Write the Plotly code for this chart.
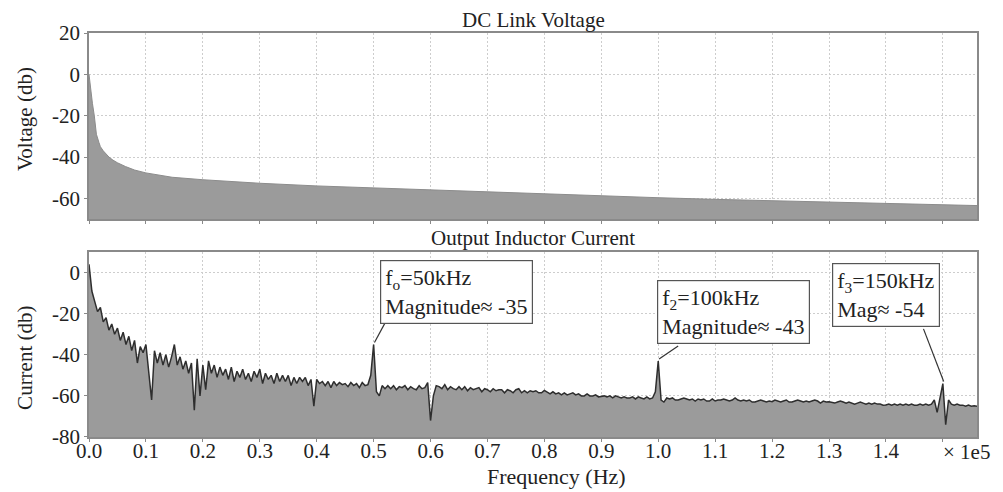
import numpy as np
import plotly.graph_objects as go
from plotly.subplots import make_subplots

# ---- DC link voltage spectrum (smooth) ----
volt_freq = [0, 300, 600, 930, 1160, 1300, 1750, 2000, 2500, 3000, 3500, 4200, 5000,
             6400, 8000, 10000, 14600, 20000, 25000, 30000, 40000, 50000, 60000,
             70000, 80000, 90000, 100000, 110000, 120000, 130000, 140000, 150000, 156000]
volt_db = [0, -8, -14, -20, -27, -29, -33, -35, -37, -38.7, -40, -41.5, -42.8,
           -44.6, -46.3, -47.7, -49.8, -51, -52, -52.7, -54, -55, -56,
           -57, -58, -58.9, -59.7, -60.5, -61.2, -61.9, -62.5, -63.1, -63.5]

# ---- Output inductor current spectrum, 500 Hz bins ----
bin_hz = 500
curr_db = [
    4, -9, -14, -19, -17, -24, -22, -28, -25, -30,
    -27, -33, -29, -35, -31, -38, -33, -44, -36, -39,
    -35, -47, -62, -38, -44, -39, -45, -40, -46, -41,
    -35, -45, -41, -47, -43, -49, -44, -67, -42, -60,
    -45, -57, -43, -49, -45, -51, -46, -50, -47, -52,
    -46, -53, -48, -51, -47, -52, -49, -53, -48, -51,
    -47, -54, -49, -52, -50, -54, -49, -53, -50, -53,
    -50, -55, -51, -54, -51, -53, -51, -55, -52, -65,
    -52, -54, -53, -55, -53, -56, -53, -55, -53.5, -54.5,
    -54, -55.5, -53.5, -55, -54, -56, -53.5, -55, -54.5, -50,
    -35, -58, -60, -55, -56.5, -55, -56.5, -55, -57, -55.5,
    -56, -55, -57, -55.5, -56.5, -57, -55, -56.5, -56, -53.5,
    -72, -60, -55, -55.5, -56.5, -54.5, -57, -55.5, -56.5, -57,
    -55.5, -57, -55.5, -57.5, -56, -57, -56.5, -56, -58, -56.5,
    -57, -58, -56.5, -57.5, -57, -57, -58.5, -57, -57.5, -58.5,
    -57, -56.5, -58.5, -57.5, -58.5, -57.5, -58, -57.5, -58.5, -58.5,
    -57.3, -58, -59, -58, -59, -58.5, -59.5, -58.5, -59.5, -59,
    -58.5, -59.5, -59, -60, -60, -59, -60, -60, -59.5, -60.5,
    -60.3, -60, -60.5, -60, -61, -60, -60.5, -61, -60.5, -61,
    -61, -60.5, -61.5, -60.5, -61, -61.5, -60.5, -61.5, -61, -58,
    -43, -62, -63, -61, -61.5, -61, -62, -62, -61.5, -61,
    -61.5, -62, -61.5, -62.5, -61.5, -62, -61.5, -62.5, -62.5, -61.5,
    -62.5, -62, -62, -61.5, -62, -62.5, -62, -61, -62, -62.5,
    -62, -62.5, -62, -63, -63, -62.5, -62, -62.5, -63, -62.5,
    -62.8, -62, -62.5, -63, -62.5, -62, -63, -63, -62.5, -62,
    -62.5, -63, -62.5, -63, -62.5, -62, -62.5, -63.5, -62.5, -63,
    -62.8, -63, -63.5, -63, -62.5, -63, -63.5, -63, -63.5, -64,
    -63.5, -63, -63.5, -64, -63.5, -64, -63.5, -64, -64, -64.5,
    -64.4, -64, -64.5, -64, -64.5, -64, -64.5, -64, -64.5, -64,
    -64.5, -64.5, -64, -64.5, -64, -64.5, -64, -62, -68, -60,
    -54, -74, -62, -64, -64.5, -64, -64.5, -64.5, -65, -64.5,
    -65, -64.8, -65,
]
curr_freq = [i * bin_hz for i in range(len(curr_db))]

# Harmonic markers: (frequency, magnitude, label)
peak_freq = [50000, 100000, 150000]
peak_db = [-35, -43, -54]
peak_text = ["f<sub>o</sub>=50kHz<br>Magnitude≈ -35",
             "f<sub>2</sub>=100kHz<br>Magnitude≈ -43",
             "f<sub>3</sub>=150kHz<br>Mag≈ -54"]

x_grid = [i * 10000 for i in range(16)]
x_ticktext = ["%.1f" % (v / 1e5) for v in x_grid[:-1]] + [""]
volt_ticks = [-60, -40, -20, 0, 20]
curr_ticks = [-80, -60, -40, -20, 0]

FONT = "Liberation Serif, Times New Roman, serif"
FILL = "#9b9b9b"
GRID = "#cdcdcd"
SPINE = "#8a8a8a"
X_MAX = 156000

fig = make_subplots(rows=2, cols=1, shared_xaxes=False, vertical_spacing=0.08)

# floor traces so the spectra fill down to the axis bottom
fig.add_trace(go.Scatter(x=[0, X_MAX], y=[-100, -100], mode="lines",
                         line=dict(width=0), showlegend=False, hoverinfo="skip"),
              row=1, col=1)
fig.add_trace(go.Scatter(x=volt_freq, y=volt_db, mode="lines",
                         line=dict(color="#8c8c8c", width=1), fill="tonexty",
                         fillcolor=FILL, showlegend=False), row=1, col=1)
fig.add_trace(go.Scatter(x=[0, X_MAX], y=[-100, -100], mode="lines",
                         line=dict(width=0), showlegend=False, hoverinfo="skip"),
              row=2, col=1)
fig.add_trace(go.Scatter(x=curr_freq, y=curr_db, mode="lines",
                         line=dict(color="#2e2e2e", width=1.5), fill="tonexty",
                         fillcolor=FILL, showlegend=False), row=2, col=1)

axis_common = dict(showline=True, mirror=True, linecolor=SPINE, linewidth=1.5,
                   showgrid=True, gridcolor=GRID, griddash="2px,2px", gridwidth=1,
                   ticks="outside", ticklen=3, tickcolor=SPINE, zeroline=False,
                   tickfont=dict(family=FONT, size=21, color="#222"))

fig.update_xaxes(range=[0, X_MAX], tickvals=x_grid, **axis_common)
fig.update_xaxes(showticklabels=False, row=1, col=1)
fig.update_xaxes(ticktext=x_ticktext, ticklabelstandoff=-9, row=2, col=1)
fig.update_yaxes(**axis_common)
fig.update_yaxes(range=[-70, 20], tickvals=volt_ticks,
                 ticktext=[str(v) for v in volt_ticks], row=1, col=1)
fig.update_yaxes(range=[-80, 10], tickvals=curr_ticks,
                 ticktext=[str(v) for v in curr_ticks], row=2, col=1)

fig.update_layout(
    width=1003, height=492,
    margin=dict(l=89, r=26, t=33, b=55),
    paper_bgcolor="white", plot_bgcolor="white",
    font=dict(family=FONT, size=21, color="#222"),
)
fig.layout.yaxis.domain = [0.5396, 1.0]
fig.layout.yaxis2.domain = [0.0, 0.4579]

annotations = [
    dict(text="DC Link Voltage", xref="paper", yref="paper", x=0.5, y=1.0,
         xanchor="center", yanchor="bottom", yshift=-1, showarrow=False,
         font=dict(size=21)),
    dict(text="Output Inductor Current", xref="paper", yref="paper", x=0.5, y=0.4579,
         xanchor="center", yanchor="bottom", yshift=0, showarrow=False,
         font=dict(size=21)),
    dict(text="Voltage (db)", xref="paper", yref="paper", x=-0.072, y=0.787,
         textangle=-90, xanchor="center", yanchor="middle", showarrow=False,
         font=dict(size=21)),
    dict(text="Current (db)", xref="paper", yref="paper", x=-0.072, y=0.196,
         textangle=-90, xanchor="center", yanchor="middle", showarrow=False,
         font=dict(size=21)),
    dict(text="Frequency (Hz)", xref="paper", yref="paper", x=0.527, y=-0.098,
         xanchor="center", yanchor="middle", showarrow=False, font=dict(size=22)),
    dict(text="× 1e5", xref="paper", yref="paper", x=0.988, y=-0.036,
         xanchor="center", yanchor="middle", showarrow=False, font=dict(size=21)),
]

# labelled boxes for the switching harmonics
box_pos = [(51140, 6.1), (99820, -3.6), (130580, 4.7)]
for (bx, by), txt in zip(box_pos, peak_text):
    annotations.append(dict(text=txt, xref="x2", yref="y2", x=bx, y=by,
                            xanchor="left", yanchor="top", align="left",
                            showarrow=False, bordercolor="#555", borderwidth=1.2,
                            borderpad=4, bgcolor="white", font=dict(size=22)))
fig.update_layout(annotations=annotations)

# leader lines from each box down to its peak
tails = [(52200, -23.5), (103500, -35.7), (146600, -27.4)]
shapes = []
for (tx, ty), px, py in zip(tails, peak_freq, peak_db):
    shapes.append(dict(type="line", xref="x2", yref="y2", x0=tx, y0=ty,
                       x1=px + 150, y1=py + 1, line=dict(color="#333", width=1.2)))
fig.update_layout(shapes=shapes)

fig.write_html("out.html")
